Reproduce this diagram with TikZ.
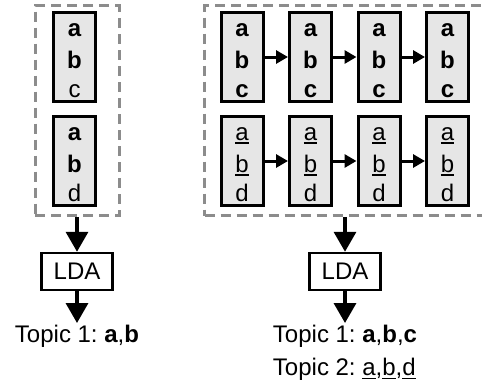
\documentclass[tikz,border=0pt]{standalone}
\usepackage{fontspec}
\setmainfont{Liberation Sans}
\usetikzlibrary{arrows.meta}
\frenchspacing
\definecolor{docgray}{HTML}{E6E6E6}
\definecolor{groupgray}{HTML}{8C8C8C}
\newcommand*\docline[1]{\hbox to 42pt{\hss\smash{#1}\hss}}
\newcommand*\docwords[3]{\vbox to 89pt{\offinterlineskip
  \kern23.5pt\docline{#1}\kern32pt\docline{#2}\kern29.5pt\docline{#3}\vss}}
\newcommand*\uword[1]{\vtop{\hbox{#1}\kern2pt\hrule height 1.5pt}}
\begin{document}
\begin{tikzpicture}[x=1pt,y=-1pt,
  doc/.style={draw, line width=3pt, fill=docgray, minimum width=42pt,
    minimum height=89pt, inner sep=0pt, font=\fontsize{24}{29}\selectfont},
  group/.style={draw=groupgray, line width=3pt, dash pattern=on 10pt off 6pt,
    inner sep=0pt, minimum height=210pt},
  lda/.style={draw, line width=2.5pt, minimum width=71pt, minimum height=37pt,
    inner sep=0pt, font=\fontsize{24}{29}\selectfont},
  topic/.style={inner sep=2pt, anchor=north, align=left,
    font=\fontsize{24}{33}\selectfont},
  flow/.style={line width=3.5pt, -{Triangle[width=22pt,length=20pt]}},
  link/.style={line width=3pt, -{Triangle[width=13pt,length=12pt]}}]
\def\ytop{57} %row of the first documents
\def\ybot{161} %row of the second documents
\clip (0,0) rectangle (482,386);
% one document pair, plain LDA
\node[group, minimum width=84pt] (grpA) at (77,110.5) {};
\node[doc] (docA1) at (74.5,\ytop) {\docwords{\textbf{a}}{\textbf{b}}{c}};
\node[doc] (docA2) at (74.5,\ybot) {\docwords{\textbf{a}}{\textbf{b}}{d}};
\node[lda] (ldaA) at (77,271.5) {LDA};
\node[topic] (topicA) at (77,323) {Topic 1: \textbf{a},\textbf{b}};
\draw[flow] (grpA) -- (ldaA);
\draw[flow] (ldaA) -- (topicA);
% linked documents over time
\node[group, minimum width=281pt] (grpB) at (345,110.5) {};
\foreach \i/\x in {1/242,2/310.5,3/379,4/447.5}{
  \node[doc] (docB\i) at (\x,\ytop) {\docwords{\textbf{a}}{\textbf{b}}{\textbf{c}}};
  \node[doc] (docC\i) at (\x,\ybot) {\docwords{\uword{a}}{\uword{b}}{\uword{d}}};
}
\foreach \i/\j in {1/2,2/3,3/4}{
  \draw[link] (docB\i) -- (docB\j);
  \draw[link] (docC\i) -- (docC\j);
}
\node[lda] (ldaB) at (345,271.5) {LDA};
\node[topic] (topicB) at (345,323)
  {Topic 1: \textbf{a},\textbf{b},\textbf{c}\\
   Topic 2: \uword{a},\uword{b},\uword{d}};
\draw[flow] (grpB) -- (ldaB);
\draw[flow] (ldaB) -- (topicB);
\end{tikzpicture}
\end{document}
